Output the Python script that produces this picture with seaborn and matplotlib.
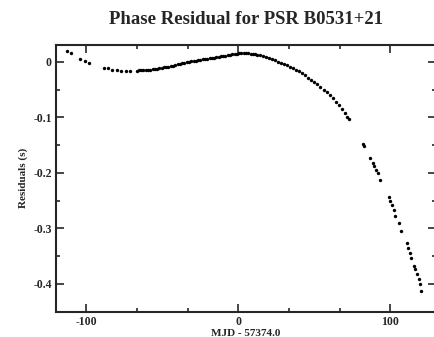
import numpy as np
import pandas as pd
import seaborn as sns
import matplotlib
matplotlib.use("Agg")
import matplotlib.pyplot as plt
from matplotlib.ticker import MultipleLocator

# residuals: MJD offset (days) and residual (s)
mjd_early = [-112.5, -110, -104, -101, -98, -88.5, -86, -83, -80, -77, -74, -71]
res_early = [0.020, 0.016, 0.005, 0.001, -0.003, -0.011, -0.012, -0.014,
             -0.015, -0.016, -0.016, -0.016]

mjd_mid = [-67, -65.5, -64, -62.5, -61, -59.5, -58, -56.5, -55, -53.5, -52, -50.5,
           -49, -47.5, -46, -44.5, -43, -41.5, -40, -38.5, -37, -35.5, -34, -32.5,
           -31, -29.5, -28, -26.5, -25, -23.5, -22, -20.5, -19, -17.5, -16, -14.5,
           -13, -11.5, -10, -8.5, -7, -5.5, -4, -2.5, -1]
res_mid = [-0.0157, -0.0156, -0.0154, -0.0151, -0.0148, -0.0144, -0.0140, -0.0134,
           -0.0128, -0.0121, -0.0114, -0.0107, -0.0100, -0.0093, -0.0086, -0.0078,
           -0.0068, -0.0058, -0.0048, -0.0038, -0.0028, -0.0018, -0.0009, -0.0001,
           0.0007, 0.0014, 0.0021, 0.0028, 0.0035, 0.0042, 0.0049, 0.0055,
           0.0061, 0.0068, 0.0074, 0.0080, 0.0089, 0.0097, 0.0105, 0.0112,
           0.0120, 0.0128, 0.0135, 0.0141, 0.0146]

mjd_late = [0.5, 2, 3.5, 5, 6.5, 8, 9.5, 11, 12.5, 14, 16, 18, 20, 22, 24, 26, 28,
            30, 32, 34, 36, 38, 40, 42, 44, 46, 48, 50, 52, 54, 56, 58, 60, 62,
            64, 66, 68, 70, 71.5, 72.5]
res_late = [0.0150, 0.0152, 0.0153, 0.0152, 0.0150, 0.0146, 0.0140, 0.0133, 0.0124,
            0.0114, 0.0100, 0.0084, 0.0066, 0.0046, 0.0024, 0.0001, -0.0020,
            -0.0040, -0.0063, -0.0087, -0.0112, -0.0140, -0.0172, -0.0207,
            -0.0245, -0.0285, -0.0326, -0.0366, -0.0408, -0.0452, -0.0500,
            -0.0550, -0.0603, -0.0659, -0.0718, -0.0780, -0.0845, -0.0913,
            -0.0990, -0.1030]

mjd_tail = [82, 82.9, 86.8, 88.4, 89.5, 90.8, 92.1, 93.4,
            98.9, 100, 101.1, 102.2, 103.3, 105.4, 107.2,
            110.9, 111.9, 113, 113.8, 115.2, 116.4, 117.5, 118.5, 119.6, 120.4]
res_tail = [-0.148, -0.152, -0.1735, -0.182, -0.188, -0.194, -0.201, -0.212,
            -0.243, -0.251, -0.257, -0.266, -0.277, -0.290, -0.305,
            -0.327, -0.335, -0.344, -0.353, -0.368, -0.374, -0.383, -0.392,
            -0.401, -0.413]

df = pd.DataFrame({
    "mjd": mjd_early + mjd_mid + mjd_late + mjd_tail,
    "res": res_early + res_mid + res_late + res_tail,
})

sns.set_style("ticks")
plt.rcParams['font.family'] = ['Liberation Serif', 'DejaVu Serif']
plt.rcParams['font.weight'] = 'bold'
plt.rcParams['axes.unicode_minus'] = False

fig = plt.figure(figsize=(4.34, 3.37), dpi=100)
ax = fig.add_axes([56 / 434, 1 - 311.7 / 337, 380 / 434, (311.7 - 45) / 337])

sns.scatterplot(data=df, x="mjd", y="res", ax=ax, color="black", marker="o",
                s=6, linewidth=0)

ax.set_xlim(-120, 130)
ax.set_ylim(-0.45, 0.0303)
ax.xaxis.set_major_locator(MultipleLocator(100))
ax.xaxis.set_minor_locator(MultipleLocator(100 / 3))
ax.yaxis.set_major_locator(MultipleLocator(0.1))
ax.yaxis.set_minor_locator(MultipleLocator(0.05))
ax.set_yticks([0, -0.1, -0.2, -0.3, -0.4])
ax.set_yticklabels(["0", "-0.1", "-0.2", "-0.3", "-0.4"])

ax.tick_params(which="both", direction="in", top=True, right=True,
               labelsize=8.5, width=1.2, pad=3)
ax.tick_params(which="major", length=6)
ax.tick_params(which="minor", length=3)
for sp in ax.spines.values():
    sp.set_linewidth(1.5)

ax.set_xlabel("MJD - 57374.0", fontsize=8, fontweight="bold", labelpad=1)
ax.set_ylabel("Residuals (s)", fontsize=8, fontweight="bold", labelpad=4)
fig.text(246 / 434, 1 - 20 / 337, "Phase Residual for PSR B0531+21",
         ha="center", va="center", fontsize=13.5, fontweight="bold")

fig.savefig("out.png", dpi=100)
